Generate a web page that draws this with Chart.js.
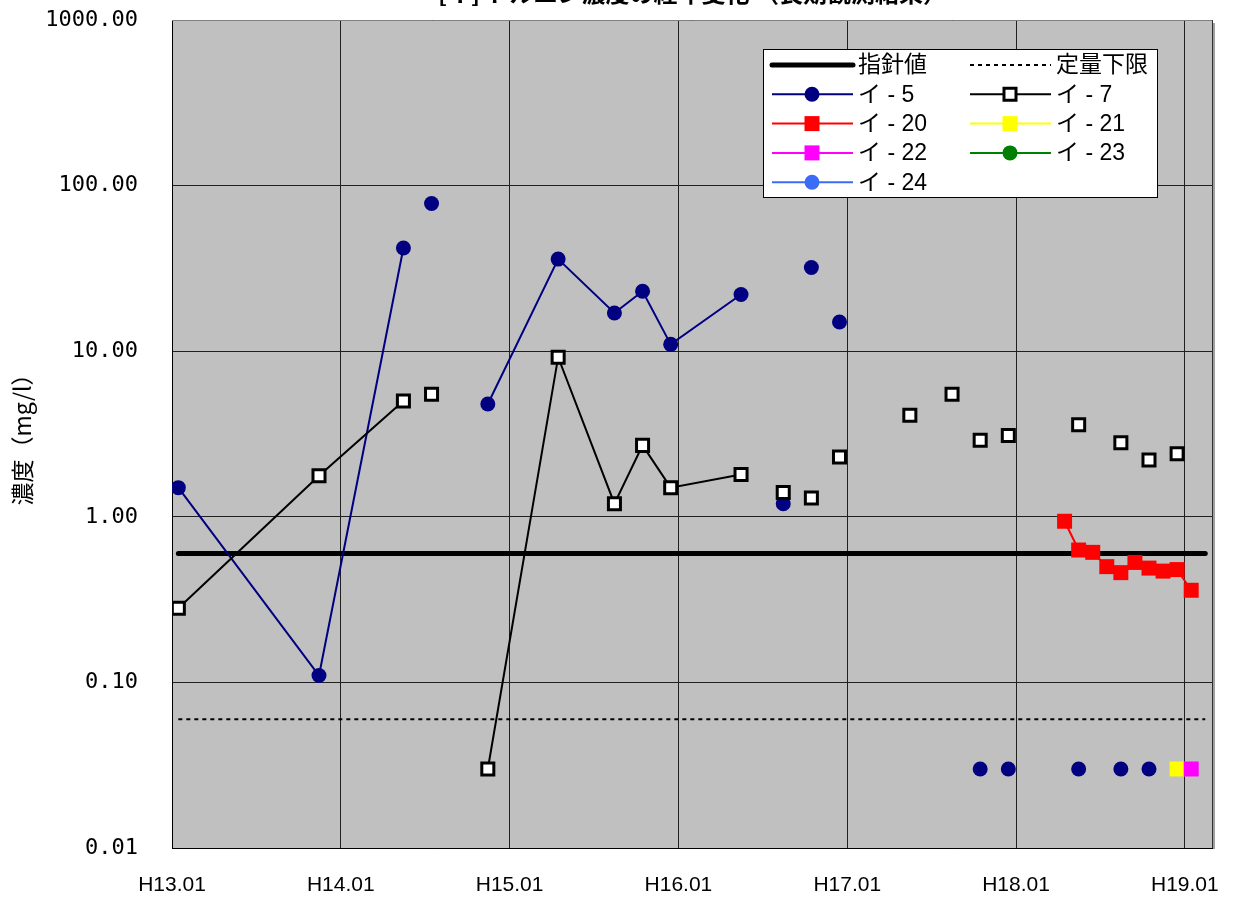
<!DOCTYPE html>
<html lang="ja">
<head>
<meta charset="utf-8">
<title>濃度の推移</title>
<script src="https://cdn.jsdelivr.net/npm/chart.js@4.4.1/dist/chart.umd.min.js"></script>
<style>
  html, body { margin: 0; padding: 0; background: #fff; }
</style>
</head>
<body>
<canvas id="chart" width="1245" height="897"></canvas>
<script>
// ============================== DATA

// sampling rows (Heisei year.month), empty rows break the lines like blank cells in the sheet
const months = [
  'H13.01', 'H13.11', 'H14.05', 'H14.06', 'H14.07', 'H14.09', 'H14.11', 'H15.04',
  'H15.08', 'H15.10', 'H15.12', 'H16.05', 'H16.06', 'H16.08', 'H16.09', 'H16.10',
  'H16.11', 'H16.12', 'H17.02', 'H17.05', 'H17.06', 'H17.08', 'H17.09', 'H17.10',
  'H17.11', 'H17.12', 'H18.02', 'H18.04', 'H18.05', 'H18.06', 'H18.07', 'H18.08',
  'H18.09', 'H18.10', 'H18.11', 'H18.12', 'H19.01', 'H19.02',
];

const i5 = [
  1.5, 0.11, 42, null, 78, null, 4.8, 36,
  17, 23, 11, 22, null, 1.2, null, 32,
  null, 15, null, null, null, null, null, 0.03,
  null, 0.03, null, null, 0.03, null, null, 0.03,
  null, 0.03, null, null, null, null,
];

const i7 = [
  0.28, 1.77, 5.0, null, 5.5, null, 0.03, 9.2,
  1.2, 2.7, 1.5, 1.8, null, 1.4, null, 1.3,
  null, 2.3, null, 4.1, null, 5.5, null, 2.9,
  null, 3.1, null, null, 3.6, null, null, 2.8,
  null, 2.2, null, 2.4, null, null,
];

const i20 = [
  null, null, null, null, null, null, null, null,
  null, null, null, null, null, null, null, null,
  null, null, null, null, null, null, null, null,
  null, null, null, 0.94, 0.63, 0.61, 0.50, 0.46,
  0.53, 0.49, 0.47, 0.48, 0.36, null,
];

const i21 = [
  null, null, null, null, null, null, null, null,
  null, null, null, null, null, null, null, null,
  null, null, null, null, null, null, null, null,
  null, null, null, null, null, null, null, null,
  null, null, null, 0.03, null, null,
];

const i22 = [
  null, null, null, null, null, null, null, null,
  null, null, null, null, null, null, null, null,
  null, null, null, null, null, null, null, null,
  null, null, null, null, null, null, null, null,
  null, null, null, null, 0.03, null,
];

const i23 = [];
const i24 = [];

const guideValue = 0.6;    // 指針値
const lowerLimit = 0.06;   // 定量下限

const yTicks = [0.01, 0.1, 1, 10, 100, 1000];
const xTicks = ['H13.01', 'H14.01', 'H15.01', 'H16.01', 'H17.01', 'H18.01', 'H19.01'];
const xMaxLabel = 'H19.03';

// ============================== UTILS

const SAMPLE_DAY = 0.45; // samples taken mid-month
const FONT = '"Liberation Sans", "Noto Sans CJK JP", sans-serif';

function monthIndex(label) {
  const [y, m] = label.slice(1).split('.').map(Number);
  return (y - 13) * 12 + (m - 1);
}

function rows(values) {
  return months.map((m, i) => ({
    x: monthIndex(m) + SAMPLE_DAY,
    y: values[i] === undefined ? null : values[i],
  }));
}

function flat(value) {
  return rows(months.map(() => value));
}

function series(label, values, color, style, order) {
  const square = style === 'rect';
  return {
    label: label,
    data: rows(values),
    borderColor: color,
    borderWidth: 2,
    backgroundColor: color,
    pointStyle: style,
    pointRadius: square ? 10.6 : 7.5,
    pointHoverRadius: square ? 10.6 : 7.5,
    pointBackgroundColor: color,
    pointBorderColor: color,
    pointBorderWidth: 0,
    spanGaps: false,
    order: order,
  };
}

const plotBackground = {
  id: 'plotBackground',
  beforeDraw(chart) {
    const { ctx, chartArea: { left, top, right, bottom } } = chart;
    ctx.save();
    ctx.fillStyle = '#fff';
    ctx.fillRect(0, 0, chart.width, chart.height);
    ctx.fillStyle = '#c0c0c0';
    ctx.fillRect(left, top, right - left, bottom - top);
    ctx.restore();
  },
  beforeDatasetsDraw(chart) {
    const { ctx, chartArea: { left, top, right, bottom } } = chart;
    ctx.save();
    ctx.lineWidth = 1;
    ctx.strokeStyle = '#808080';
    ctx.beginPath();
    ctx.moveTo(left, top + 0.5);
    ctx.lineTo(right, top + 0.5);
    ctx.stroke();
    ctx.strokeStyle = '#303030';
    ctx.beginPath();
    ctx.moveTo(right - 0.5, top);
    ctx.lineTo(right - 0.5, bottom);
    ctx.stroke();
    ctx.strokeStyle = '#a0a0a0';
    ctx.lineWidth = 2;
    ctx.beginPath();
    ctx.moveTo(right + 1, top + 3);
    ctx.lineTo(right + 1, bottom + 1);
    ctx.stroke();
    ctx.restore();
  }
};

const topTitle = {
  id: 'topTitle',
  afterDraw(chart) {
    const { ctx, chartArea: { left, right } } = chart;
    ctx.save();
    ctx.font = 'bold 24px "Noto Sans CJK JP", sans-serif';
    ctx.fillStyle = '#000';
    ctx.textAlign = 'center';
    ctx.textBaseline = 'alphabetic';
    ctx.fillText('[イ] トルエン濃度の経年変化 （長期観測結果）', (left + right) / 2, 2);
    ctx.restore();
  }
};

const boxLegend = {
  id: 'boxLegend',
  afterDraw(chart, args, opts) {
    const { ctx } = chart;
    const { left, top, width, height, colWidth, rowHeight } = opts;
    ctx.save();
    ctx.fillStyle = '#fff';
    ctx.fillRect(left, top, width, height);
    ctx.strokeStyle = '#000';
    ctx.lineWidth = 1;
    ctx.strokeRect(left + 0.5, top + 0.5, width, height);

    chart.data.datasets.forEach((ds, i) => {
      const x0 = left + 9 + (i % 2) * colWidth;
      const y = top + 16 + Math.floor(i / 2) * rowHeight;

      ctx.strokeStyle = ds.borderColor;
      ctx.lineWidth = ds.borderWidth;
      ctx.lineCap = ds.borderCapStyle || 'butt';
      ctx.setLineDash(ds.borderDash || []);
      ctx.beginPath();
      ctx.moveTo(x0, y);
      ctx.lineTo(x0 + 81, y);
      ctx.stroke();
      ctx.setLineDash([]);
      ctx.lineCap = 'butt';

      if (ds.pointRadius > 0) {
        ctx.fillStyle = ds.pointBackgroundColor;
        ctx.strokeStyle = ds.pointBorderColor;
        ctx.lineWidth = ds.pointBorderWidth;
        Chart.helpers.drawPoint(ctx, {
          pointStyle: ds.pointStyle,
          radius: ds.pointRadius,
          rotation: 0,
          borderWidth: ds.pointBorderWidth,
        }, x0 + 40, y);
      }

      ctx.fillStyle = '#000';
      ctx.font = '23px ' + FONT;
      ctx.textAlign = 'left';
      ctx.textBaseline = 'middle';
      ctx.fillText(ds.label, x0 + 86, y + 1);
    });
    ctx.restore();
  }
};

// ============================== CHART JS

const datasets = [
  {
    label: '指針値',
    data: flat(guideValue),
    borderColor: '#000',
    borderWidth: 5,
    borderCapStyle: 'round',
    pointRadius: 0,
    pointHoverRadius: 0,
    order: 100,
  },
  {
    label: '定量下限',
    data: flat(lowerLimit),
    borderColor: '#000',
    borderWidth: 2,
    borderDash: [4, 4],
    pointRadius: 0,
    pointHoverRadius: 0,
    order: 100,
  },
  series('イ - 5', i5, '#000080', 'circle', -2),
  Object.assign(series('イ - 7', i7, '#000', 'rect', -3), {
    pointRadius: 8.5,
    pointHoverRadius: 8.5,
    pointBackgroundColor: '#fff',
    pointBorderWidth: 3,
  }),
  series('イ - 20', i20, '#ff0000', 'rect', -4),
  series('イ - 21', i21, '#ffff00', 'rect', -5),
  series('イ - 22', i22, '#ff00ff', 'rect', -6),
  series('イ - 23', i23, '#008000', 'circle', -7),
  series('イ - 24', i24, '#3b6cf5', 'circle', -8),
];

new Chart(document.getElementById('chart'), {
  type: 'line',
  data: { datasets: datasets },
  options: {
    responsive: false,
    animation: false,
    events: [],
    layout: { padding: { top: 20, right: 32, left: 0, bottom: 0 } },
    elements: { line: { tension: 0 } },
    plugins: {
      legend: { display: false },
      tooltip: { enabled: false },
      boxLegend: { left: 763, top: 49, width: 394, height: 148, colWidth: 198, rowHeight: 29.3 },
    },
    scales: {
      x: {
        type: 'linear',
        min: monthIndex(xTicks[0]),
        max: monthIndex(xMaxLabel),
        afterBuildTicks: s => { s.ticks = xTicks.map(t => ({ value: monthIndex(t) })); },
        afterFit: s => { s.height = 49; s.paddingLeft = 0; s.paddingRight = 0; },
        ticks: {
          callback: v => xTicks.find(t => monthIndex(t) === v),
          font: { family: '"Liberation Sans Narrow", "Liberation Sans", sans-serif', size: 21 },
          color: '#000',
          padding: 25,
          maxRotation: 0,
          autoSkip: false,
        },
        grid: { color: '#202020', lineWidth: 1, drawTicks: false },
        border: { color: '#000', width: 1 },
      },
      y: {
        type: 'logarithmic',
        min: yTicks[0],
        max: yTicks[yTicks.length - 1],
        afterBuildTicks: s => { s.ticks = yTicks.map(v => ({ value: v })); },
        afterFit: s => { s.width = 172; s.paddingTop = 0; s.paddingBottom = 0; },
        ticks: {
          callback: v => Number(v).toFixed(2),
          font: { family: '"DejaVu Sans Mono", monospace', size: 22 },
          color: '#000',
          padding: 34,
        },
        grid: { color: '#202020', lineWidth: 1, drawTicks: false },
        border: { color: '#000', width: 1 },
        title: {
          display: true,
          text: '濃度（mg/l）',
          font: { family: '"Noto Sans CJK JP", sans-serif', size: 23 },
          color: '#000',
          padding: { top: 8, bottom: 0 },
        },
      },
    },
  },
  plugins: [plotBackground, topTitle, boxLegend],
});
</script>
</body>
</html>
